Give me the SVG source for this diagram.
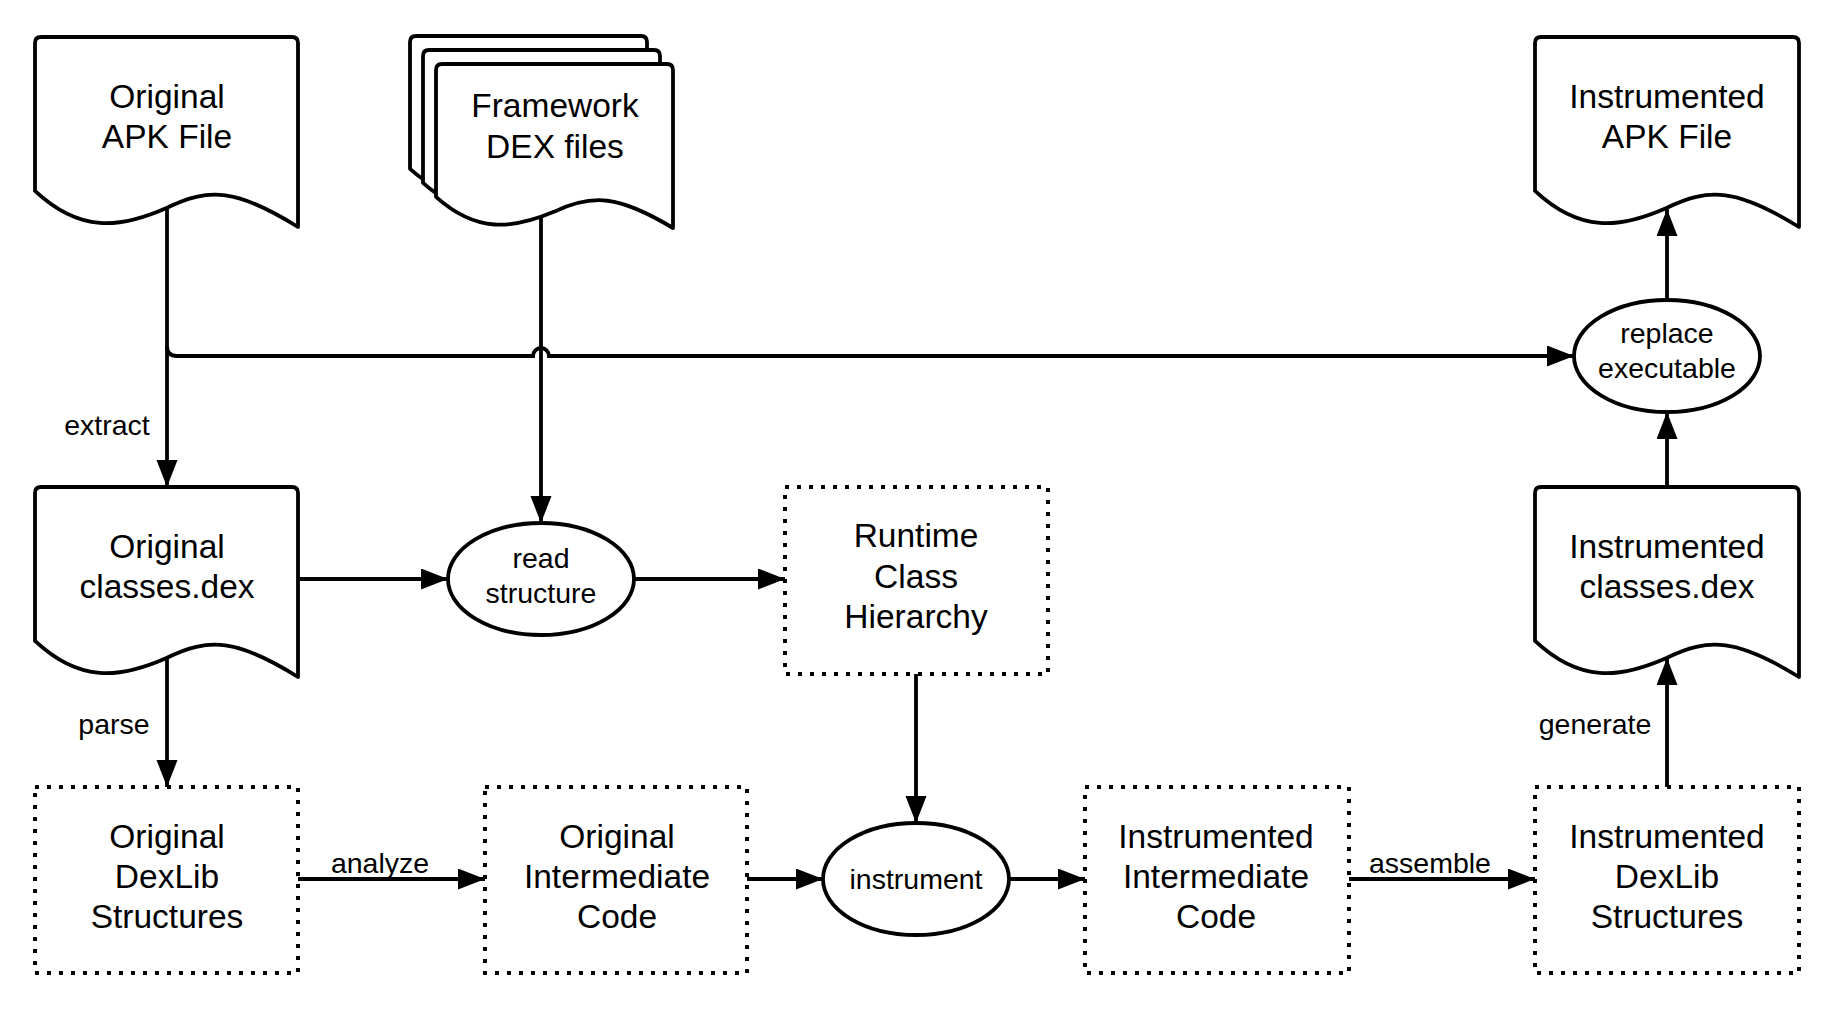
<svg xmlns="http://www.w3.org/2000/svg" width="1828" height="1009" viewBox="0 0 1828 1009">
<style>
.doc{fill:#fff;stroke:#000;stroke-width:3.8;stroke-linejoin:round}
.dot{fill:#fff;stroke:#000;stroke-width:4;stroke-dasharray:4 8}
.ell{fill:#fff;stroke:#000;stroke-width:3.8}
.edge{fill:none;stroke:#000;stroke-width:3.8}
.arr{marker-end:url(#ah)}
text{font-family:"Liberation Sans",Arial,sans-serif;fill:#000;text-anchor:middle}
.t{font-size:33.5px}
.s{font-size:28.5px}
</style>
<defs>
<marker id="ah" markerUnits="userSpaceOnUse" markerWidth="30" markerHeight="24" refX="27" refY="10.5" orient="auto">
<path d="M0,0 L27,10.5 L0,21 Z" fill="#000"/>
</marker>
</defs>
<g id="connectors">
<path class="edge arr" d="M167,208 V487"/>
<path class="edge arr" d="M167,346 Q167,356 177,356 H533 A8,8 0 0 1 549,356 H1574"/>
<path class="edge arr" d="M541,216 V523"/>
<path class="edge arr" d="M298,579 H448"/>
<path class="edge arr" d="M634,579 H785"/>
<path class="edge arr" d="M916,674 V823"/>
<path class="edge arr" d="M167,658 V787"/>
<path class="edge arr" d="M298,879 H485"/>
<path class="edge arr" d="M747,879 H823"/>
<path class="edge arr" d="M1009,879 H1085"/>
<path class="edge arr" d="M1349,879 H1535"/>
<path class="edge arr" d="M1667,787 V658"/>
<path class="edge arr" d="M1667,487 V412"/>
<path class="edge arr" d="M1667,300 V209"/>
<text class="s" x="107" y="435">extract</text>
<text class="s" x="114" y="734">parse</text>
<text class="s" x="380" y="873">analyze</text>
<text class="s" x="1430" y="873">assemble</text>
<text class="s" x="1595" y="734">generate</text>
</g>
<g id="original-apk">
<path class="doc" d="M35,43 Q35,37 41,37 H292 Q298,37 298,43 V227 C237.5,189 208.6,187.1 166.5,208 C119.2,228.9 79.7,232.7 35,190.9 Z"/>
<text class="t" x="167" y="108">Original</text>
<text class="t" x="167" y="148">APK File</text>
</g>
<g id="framework-dex">
<path class="doc" d="M410,42 Q410,36 416,36 H641 Q647,36 647,42 V200 C592.5,167.2 566.4,165.6 528.5,183.6 C485.8,201.6 450.3,204.9 410,168.8 Z"/>
<path class="doc" d="M423,56 Q423,50 429,50 H654 Q660,50 660,56 V214 C605.5,181.2 579.4,179.6 541.5,197.6 C498.8,215.6 463.3,218.9 423,182.8 Z"/>
<path class="doc" d="M436,70 Q436,64 442,64 H667 Q673,64 673,70 V228 C618.5,195.2 592.4,193.6 554.5,211.6 C511.8,229.6 476.3,232.9 436,196.8 Z"/>
<text class="t" x="555" y="117">Framework</text>
<text class="t" x="555" y="158">DEX files</text>
</g>
<g id="instrumented-apk">
<path class="doc" d="M1535,43 Q1535,37 1541,37 H1793 Q1799,37 1799,43 V227 C1737.5,189 1708.6,187.1 1666.5,208 C1619.2,228.9 1579.7,232.7 1535,190.9 Z"/>
<text class="t" x="1667" y="108">Instrumented</text>
<text class="t" x="1667" y="148">APK File</text>
</g>
<g id="replace-executable">
<ellipse class="ell" cx="1667" cy="356" rx="93" ry="56"/>
<text class="s" x="1667" y="343">replace</text>
<text class="s" x="1667" y="378">executable</text>
</g>
<g id="original-classes">
<path class="doc" d="M35,493 Q35,487 41,487 H292 Q298,487 298,493 V677 C237.5,639 208.6,637.1 166.5,658 C119.2,678.9 79.7,682.7 35,640.9 Z"/>
<text class="t" x="167" y="558">Original</text>
<text class="t" x="167" y="598">classes.dex</text>
</g>
<g id="read-structure">
<ellipse class="ell" cx="541" cy="579" rx="93" ry="56"/>
<text class="s" x="541" y="568">read</text>
<text class="s" x="541" y="603">structure</text>
</g>
<g id="runtime-class-hierarchy">
<rect class="dot" x="785" y="487" width="263" height="187"/>
<text class="t" x="916" y="547">Runtime</text>
<text class="t" x="916" y="588">Class</text>
<text class="t" x="916" y="628">Hierarchy</text>
</g>
<g id="instrumented-classes">
<path class="doc" d="M1535,493 Q1535,487 1541,487 H1793 Q1799,487 1799,493 V677 C1737.5,639 1708.6,637.1 1666.5,658 C1619.2,678.9 1579.7,682.7 1535,640.9 Z"/>
<text class="t" x="1667" y="558">Instrumented</text>
<text class="t" x="1667" y="598">classes.dex</text>
</g>
<g id="original-dexlib">
<rect class="dot" x="35" y="787" width="263" height="186"/>
<text class="t" x="167" y="848">Original</text>
<text class="t" x="167" y="888">DexLib</text>
<text class="t" x="167" y="928">Structures</text>
</g>
<g id="original-ic">
<rect class="dot" x="485" y="787" width="262" height="186"/>
<text class="t" x="617" y="848">Original</text>
<text class="t" x="617" y="888">Intermediate</text>
<text class="t" x="617" y="928">Code</text>
</g>
<g id="instrument">
<ellipse class="ell" cx="916" cy="879" rx="93" ry="56"/>
<text class="s" x="916" y="889">instrument</text>
</g>
<g id="instrumented-ic">
<rect class="dot" x="1085" y="787" width="264" height="186"/>
<text class="t" x="1216" y="848">Instrumented</text>
<text class="t" x="1216" y="888">Intermediate</text>
<text class="t" x="1216" y="928">Code</text>
</g>
<g id="instrumented-dexlib">
<rect class="dot" x="1535" y="787" width="264" height="186"/>
<text class="t" x="1667" y="848">Instrumented</text>
<text class="t" x="1667" y="888">DexLib</text>
<text class="t" x="1667" y="928">Structures</text>
</g>
</svg>
